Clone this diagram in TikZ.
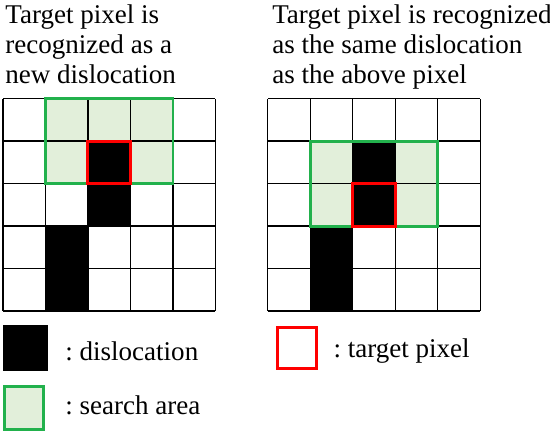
\documentclass[tikz,border=0pt]{standalone}
\usepackage{fontspec}
\setmainfont{Liberation Serif}
\definecolor{areagreen}{HTML}{22B14C}
\definecolor{areafill}{HTML}{E2EFDA}
\tikzset{
  gridline/.style={line width=0.9pt},
  searcharea/.style={draw=areagreen, fill=areafill, line width=2pt},
  targetpixel/.style={draw=red, line width=2pt},
  titletext/.style={anchor=north west, align=left, inner sep=0pt, font=\rmfamily\fontsize{18.1}{20.1}\selectfont},
  legendtext/.style={anchor=base west, inner sep=0pt, font=\rmfamily\fontsize{18.1}{20.1}\selectfont}
}
\begin{document}
\begin{tikzpicture}
    \useasboundingbox (0,0) rectangle (12.94,-10.26);
    % Titles
    \node[titletext] (lefttitle) at (0.12,-0.11) {Target pixel is\\recognized as a\\new dislocation};
    \node[titletext] (righttitle) at (6.4,-0.11) {Target pixel is recognized\\as the same dislocation\\as the above pixel};
    % Left grid
    \begin{scope}[shift={(0.07,-7.32)}]
        \fill[areafill] (1,3) rectangle (4,5);
        \fill[black] (2,2) rectangle (3,4);
        \fill[black] (1,0) rectangle (2,2);
        \foreach \i in {0,...,5} {
            \draw[gridline] (\i,0) -- (\i,5);
            \draw[gridline] (0,\i) -- (5,\i);
        }
        \draw[searcharea, fill=none] (1,3) rectangle (4,5);
        \draw[targetpixel] (2,3) rectangle (3,4);
    \end{scope}
    % Right grid
    \begin{scope}[shift={(6.3,-7.32)}]
        \fill[areafill] (1,2) rectangle (4,4);
        \fill[black] (2,2) rectangle (3,4);
        \fill[black] (1,0) rectangle (2,2);
        \foreach \i in {0,...,5} {
            \draw[gridline] (\i,0) -- (\i,5);
            \draw[gridline] (0,\i) -- (5,\i);
        }
        \draw[searcharea, fill=none] (1,2) rectangle (4,4);
        \draw[targetpixel] (2,2) rectangle (3,3);
    \end{scope}
    % Legend
    \fill[black] (0.07,-7.65) rectangle (1.13,-8.73);
    \node[legendtext] (dislocationlabel) at (1.53,-8.49) {:~dislocation};
    \draw[searcharea] (0.1,-9.09) rectangle (1.02,-10.11);
    \node[legendtext] (searchlabel) at (1.53,-9.76) {:~search area};
    \draw[targetpixel] (6.53,-7.71) rectangle (7.45,-8.67);
    \node[legendtext] (targetlabel) at (7.84,-8.42) {:~target pixel};
\end{tikzpicture}
\end{document}
